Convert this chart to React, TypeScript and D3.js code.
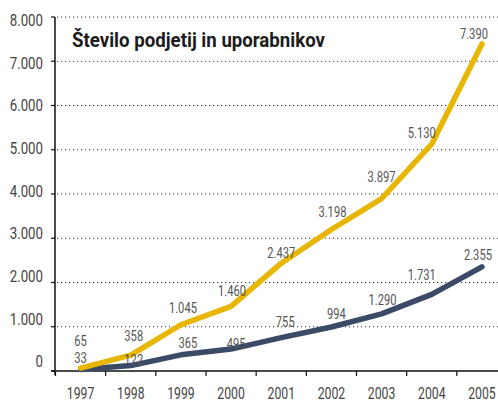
import React, { useEffect, useRef } from 'react'
import * as d3 from 'd3'

const years = ['1997', '1998', '1999', '2000', '2001', '2002', '2003', '2004', '2005']
const users = [65, 358, 1045, 1460, 2437, 3198, 3897, 5130, 7390]
const companies = [33, 122, 365, 495, 755, 994, 1290, 1731, 2355]
const yTicks = [0, 1000, 2000, 3000, 4000, 5000, 6000, 7000, 8000]
const title = 'Število podjetij in uporabnikov'

// label nudges (px) so the value labels sit like in the original
const usersDx = [0, 3, 2, 1, 0, 1, 0, -10, -8]
const usersDy = [28, 20, 17, 16, 11, 18, 22, 12, 11]
const compDx = [0, 3, 7, 5, 4, 5, 1, -10, -4]
const compDy = [12.5, 6, 12, 6, 16, 14, 15, 20, 12]

const W = 498
const H = 403
const FONT = 'Roboto, "Liberation Sans", sans-serif'
const SX = 0.72 // condensed look

const fmt = (v: number) => d3.format(',')(v).replace(/,/g, '.')

export default function App() {
  const svgRef = useRef<SVGSVGElement>(null)

  useEffect(() => {
    const svg = d3.select(svgRef.current)
    svg.selectAll('*').remove()

    const x = d3.scaleBand().domain(years).range([55.5, 507]).padding(0)
    const y = d3.scaleLinear().domain([0, 8000]).range([371, 17])
    // tick labels drift slightly against the grid in the original
    const yLab = d3.scaleLinear().domain([0, 8000]).range([361, 20])
    const cx = (d: string) => (x(d) as number) + x.bandwidth() / 2

    // grid
    svg.append('g')
      .selectAll('line')
      .data(yTicks.filter(d => d > 0))
      .join('line')
      .attr('x1', 57)
      .attr('x2', W)
      .attr('y1', d => y(d))
      .attr('y2', d => y(d))
      .attr('stroke', '#333')
      .attr('stroke-width', 1)
      .attr('stroke-dasharray', '1.2,2.8')

    // y axis
    svg.append('line')
      .attr('x1', 55).attr('x2', 55)
      .attr('y1', y(8000)).attr('y2', y(0) + 4)
      .attr('stroke', '#111').attr('stroke-width', 1.5)
    svg.append('g')
      .selectAll('line')
      .data(yTicks)
      .join('line')
      .attr('x1', 51).attr('x2', 55)
      .attr('y1', d => y(d)).attr('y2', d => y(d))
      .attr('stroke', '#111').attr('stroke-width', 1.2)
    svg.append('g')
      .selectAll('text')
      .data(yTicks)
      .join('text')
      .attr('transform', d => `translate(43,${yLab(d)}) scale(0.78,1)`)
      .attr('dy', '0.36em')
      .attr('text-anchor', 'end')
      .attr('font-family', FONT)
      .attr('font-size', 17)
      .attr('fill', '#444')
      .text(d => fmt(d))

    // x axis
    svg.append('line')
      .attr('x1', 51).attr('x2', W)
      .attr('y1', y(0)).attr('y2', y(0))
      .attr('stroke', '#111').attr('stroke-width', 1.5)
    svg.append('g')
      .selectAll('line')
      .data(years)
      .join('line')
      .attr('x1', d => x(d) as number).attr('x2', d => x(d) as number)
      .attr('y1', y(0)).attr('y2', y(0) + 5)
      .attr('stroke', '#111').attr('stroke-width', 1.2)
    svg.append('g')
      .selectAll('text')
      .data(years)
      .join('text')
      .attr('transform', d => `translate(${cx(d)},399) scale(${SX},1)`)
      .attr('text-anchor', 'middle')
      .attr('font-family', FONT)
      .attr('font-size', 17)
      .attr('fill', '#444')
      .text(d => d)

    const line = d3.line<number>()
      .x((_, i) => cx(years[i]))
      .y(d => y(d))
      .curve(d3.curveLinear)

    const series = [
      { values: companies, color: '#3b4a67', dx: compDx, dy: compDy },
      { values: users, color: '#e8b500', dx: usersDx, dy: usersDy },
    ]

    series.forEach(s => {
      svg.append('path')
        .datum(s.values)
        .attr('d', line)
        .attr('fill', 'none')
        .attr('stroke', s.color)
        .attr('stroke-width', 5.5)
        .attr('stroke-linejoin', 'round')
        .attr('stroke-linecap', 'round')
    })

    series.forEach(s => {
      svg.append('g')
        .selectAll('text')
        .data(s.values)
        .join('text')
        .attr('transform', (d, i) =>
          `translate(${cx(years[i]) + s.dx[i]},${y(d) - s.dy[i]}) scale(${SX},1)`)
        .attr('dy', '0.36em')
        .attr('text-anchor', 'middle')
        .attr('font-family', FONT)
        .attr('font-size', 15.5)
        .attr('fill', '#555')
        .text(d => fmt(d))
    })

    svg.append('text')
      .attr('x', 72)
      .attr('y', 47)
      .attr('font-family', FONT)
      .attr('font-weight', 'bold')
      .attr('font-size', 21)
      .attr('fill', '#1c1c1c')
      .attr('textLength', 253)
      .attr('lengthAdjust', 'spacingAndGlyphs')
      .text(title)
  }, [])

  return (
    <svg
      ref={svgRef}
      width={W}
      height={H}
      style={{ position: 'absolute', left: 0, top: 0, background: '#fff' }}
    />
  )
}
